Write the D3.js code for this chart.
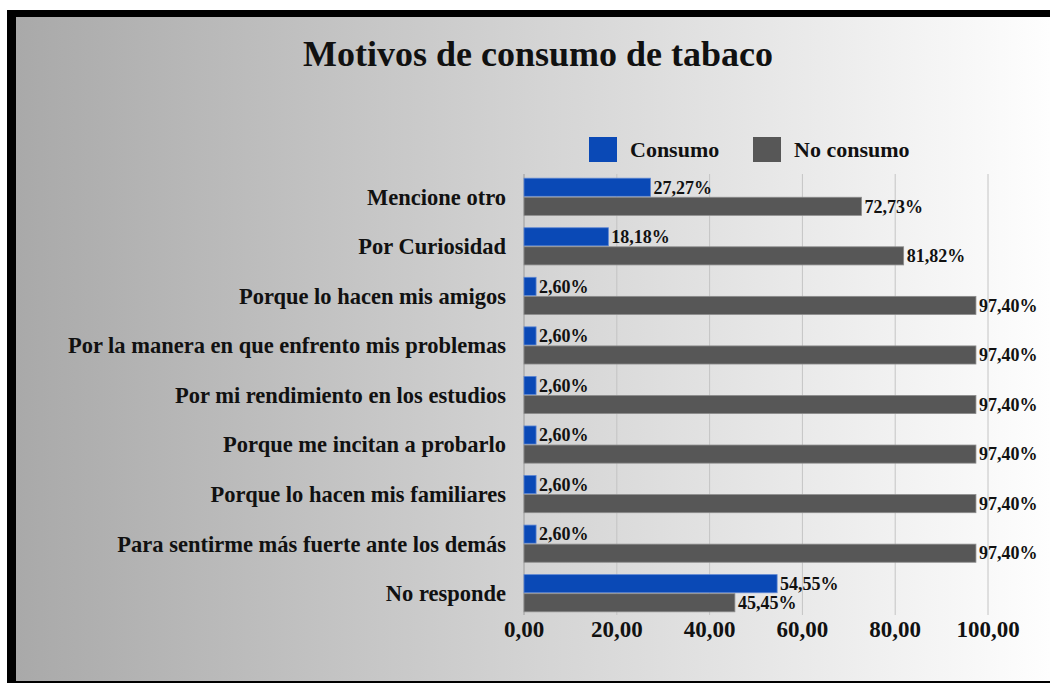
<!DOCTYPE html>
<html>
<head>
<meta charset="utf-8">
<script src="https://cdn.jsdelivr.net/npm/d3@7"></script>
<style>
  html, body { margin: 0; padding: 0; background: #fff; }
  svg { display: block; }
  text { font-family: "Liberation Serif", "Times New Roman", serif; font-weight: bold; fill: #111; }
</style>
</head>
<body>
<svg id="chart" width="1050" height="683"></svg>
<script>
// chart values
const categories = [
	'Mencione otro',
	'Por Curiosidad',
	'Porque lo hacen mis amigos',
	'Por la manera en que enfrento mis problemas',
	'Por mi rendimiento en los estudios',
	'Porque me incitan a probarlo',
	'Porque lo hacen mis familiares',
	'Para sentirme más fuerte ante los demás',
	'No responde'
];
const consumo = [27.27, 18.18, 2.6, 2.6, 2.6, 2.6, 2.6, 2.6, 54.55];
const noConsumo = [72.73, 81.82, 97.4, 97.4, 97.4, 97.4, 97.4, 97.4, 45.45];
const seriesNames = ['Consumo', 'No consumo'];
const tickValues = [0, 20, 40, 60, 80, 100];

const BLUE = '#0a49b6';
const GRAY = '#575757';

const svg = d3.select('#chart');

// comma decimal format
const locale = d3.formatLocale({ decimal: ',', thousands: '.', grouping: [3], currency: ['', ''] });
const fmtTick = locale.format('.2f');
const fmtPct = (v) => locale.format('.2f')(v) + '%';

// frame + gradient background
const defs = svg.append('defs');
const grad = defs.append('linearGradient').attr('id', 'bg').attr('x1', 0).attr('x2', 1).attr('y1', 0).attr('y2', 0);
grad.append('stop').attr('offset', 0).attr('stop-color', '#a9a9a9');
grad.append('stop').attr('offset', 1).attr('stop-color', '#fefefe');

svg.append('rect').attr('x', 7).attr('y', 10).attr('width', 1043).attr('height', 673).attr('fill', '#000');
svg.append('rect').attr('x', 16).attr('y', 17).attr('width', 1034).attr('height', 664).attr('fill', 'url(#bg)');

// scales
const x = d3.scaleLinear().domain([0, 100]).range([524, 988]);
const y = d3.scaleBand().domain(categories).range([172, 618]).paddingInner(0.25).paddingOuter(0.125);
const sub = d3.scaleBand().domain(seriesNames).range([0, y.bandwidth()]).paddingInner(0.05);

// title
svg.append('text')
	.attr('x', 538)
	.attr('y', 66)
	.attr('text-anchor', 'middle')
	.style('font-size', '36px')
	.text('Motivos de consumo de tabaco');

// gridlines
svg.append('g')
	.selectAll('line')
	.data(tickValues.slice(1))
	.enter()
	.append('line')
	.attr('x1', (d) => x(d))
	.attr('x2', (d) => x(d))
	.attr('y1', 174)
	.attr('y2', 615)
	.attr('stroke', '#c4c4c4')
	.attr('stroke-width', 1);

svg.append('line')
	.attr('x1', x(0)).attr('x2', x(0))
	.attr('y1', 174).attr('y2', 615)
	.attr('stroke', '#9a9a9a');

// x tick labels
svg.append('g')
	.selectAll('text')
	.data(tickValues)
	.enter()
	.append('text')
	.attr('x', (d) => x(d))
	.attr('y', 637)
	.attr('text-anchor', 'middle')
	.style('font-size', '23px')
	.text((d) => fmtTick(d));

// category labels
svg.append('g')
	.selectAll('text')
	.data(categories)
	.enter()
	.append('text')
	.attr('x', x(0) - 18)
	.attr('y', (d) => y(d) + y.bandwidth() / 2)
	.attr('dy', '0.35em')
	.attr('text-anchor', 'end')
	.style('font-size', '22.5px')
	.text((d) => d);

// bars
const rows = categories.map((c, i) => ({ cat: c, values: [consumo[i], noConsumo[i]] }));
const rowG = svg.append('g')
	.selectAll('g')
	.data(rows)
	.enter()
	.append('g')
	.attr('transform', (d) => 'translate(0,' + y(d.cat) + ')');

const colors = [BLUE, GRAY];
const strokes = ['#5d86d3', '#8c8c8c'];
const cells = rowG.selectAll('g')
	.data((d) => d.values.map((v, j) => ({ v: v, j: j })))
	.enter()
	.append('g');

cells.append('rect')
	.attr('x', x(0))
	.attr('y', (d) => sub(seriesNames[d.j]))
	.attr('width', (d) => x(d.v) - x(0))
	.attr('height', sub.bandwidth())
	.attr('fill', (d) => colors[d.j])
	.attr('stroke', (d) => strokes[d.j])
	.attr('stroke-width', 0.8);

cells.append('text')
	.attr('x', (d) => x(d.v) + 3)
	.attr('y', (d) => sub(seriesNames[d.j]) + sub.bandwidth() / 2)
	.attr('dy', '0.35em')
	.style('font-size', '18px')
	.text((d) => fmtPct(d.v));

// legend
const legendX = [589, 753];
const legendG = svg.append('g')
	.selectAll('g')
	.data(seriesNames)
	.enter()
	.append('g')
	.attr('transform', (d, i) => 'translate(' + legendX[i] + ',137)');
legendG.append('rect')
	.attr('width', 28)
	.attr('height', 25)
	.attr('fill', (d, i) => colors[i]);
legendG.append('text')
	.attr('x', 41)
	.attr('y', 20)
	.style('font-size', '22px')
	.text((d) => d);
</script>
</body>
</html>
